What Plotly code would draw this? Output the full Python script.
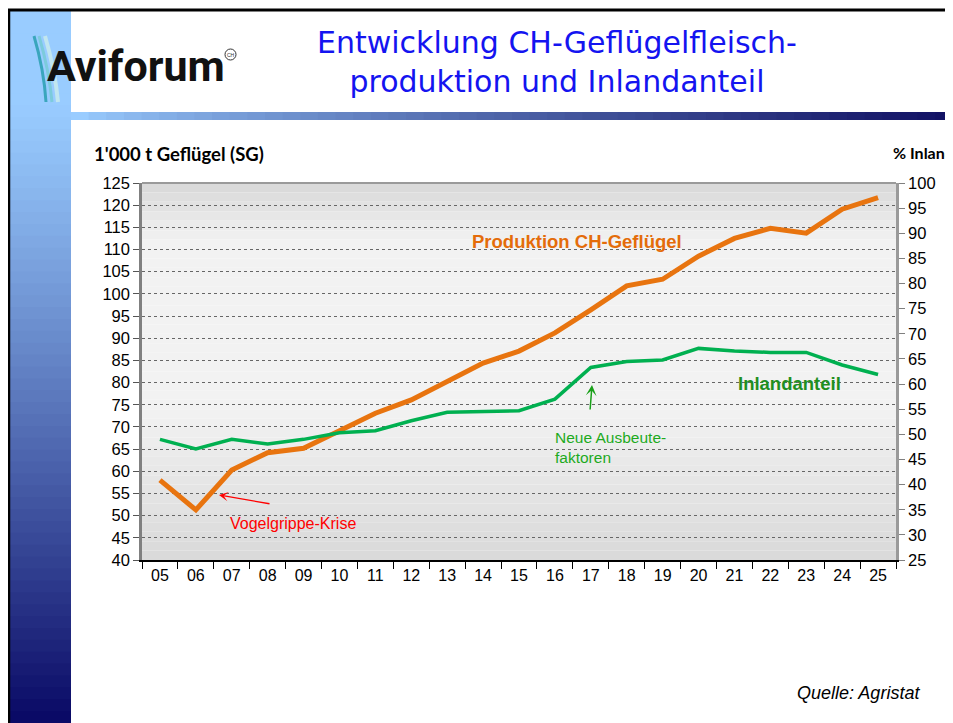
import plotly.graph_objects as go

# Daten
jahre = ['05', '06', '07', '08', '09', '10', '11', '12', '13', '14', '15',
         '16', '17', '18', '19', '20', '21', '22', '23', '24', '25']
produktion = [58.0, 51.3, 60.3, 64.2, 65.2, 69.0, 73.1, 76.1, 80.3, 84.4, 87.1,
              91.2, 96.4, 101.8, 103.3, 108.5, 112.5, 114.8, 113.7, 119.1, 121.7]
inlandanteil = [49.0, 47.1, 49.0, 48.1, 49.0, 50.3, 50.7, 52.7, 54.4, 54.5, 54.7,
                57.0, 63.3, 64.5, 64.8, 67.1, 66.6, 66.3, 66.3, 63.8, 61.9]

# die Seite hat 8px Rand, Koordinaten unten sind Seitenpixel
OFF = 8
PW, PH = 953, 723
W, H = PW - OFF, PH - OFF
L, R, T, B = 142, 896, 183, 560   # Plotbereich in Seitenpixeln


def px(x):
    return (x - L) / (R - L)


def py(y):
    return (B - y) / (B - T)


def mix(c1, c2, t):
    return 'rgb(%d,%d,%d)' % tuple(round(a + (b - a) * t) for a, b in zip(c1, c2))


fig = go.Figure()

fig.add_trace(go.Scatter(x=jahre, y=produktion, mode='lines', name='Produktion',
                         line=dict(color='#E8740F', width=5), yaxis='y'))
fig.add_trace(go.Scatter(x=jahre, y=inlandanteil, mode='lines', name='Inlandanteil',
                         line=dict(color='#00B050', width=3.5), yaxis='y2'))

shapes = []

# Hintergrund Plotbereich (Verlauf)
n = 40
for i in range(n):
    t = (i + 0.5) / n
    if t < 0.15:
        c = mix((216, 216, 216), (241, 241, 241), t / 0.15)
    elif t < 0.6:
        c = 'rgb(242,242,242)'
    else:
        c = mix((242, 242, 242), (217, 217, 217), (t - 0.6) / 0.4)
    shapes.append(dict(type='rect', xref='x domain', yref='y domain',
                       x0=0, x1=1, y0=1 - i / n, y1=1 - (i + 1) / n,
                       fillcolor=c, line=dict(width=0), layer='below'))
shapes.append(dict(type='line', xref='x domain', yref='y domain', x0=0, x1=1, y0=1, y1=1,
                   line=dict(color='#9a9a9a', width=2)))

# Seitenleiste links
m = 60
top, bot = 10, PH
for i in range(m):
    t = i / (m - 1)
    if t < 0.12:
        c = 'rgb(153,204,255)'
    else:
        tt = (t - 0.12) / 0.88
        c = mix((153, 204, 255), (10, 10, 102), tt ** 1.15)
    y0 = top + (bot - top) * i / m
    y1 = top + (bot - top) * (i + 1) / m + 1
    shapes.append(dict(type='rect', xref='paper', yref='paper',
                       x0=px(OFF), x1=px(71), y0=py(y0), y1=py(y1),
                       fillcolor=c, line=dict(width=0), layer='below'))
# horizontaler Balken oben
k = 50
for i in range(k):
    t = i / (k - 1)
    c = mix((153, 204, 255), (18, 18, 100), t ** 0.8)
    x0 = 71 + (PW - 71) * i / k
    x1 = 71 + (PW - 71) * (i + 1) / k + 1
    shapes.append(dict(type='rect', xref='paper', yref='paper',
                       x0=px(x0), x1=px(x1), y0=py(112), y1=py(120),
                       fillcolor=c, line=dict(width=0), layer='below'))
shapes.append(dict(type='rect', xref='paper', yref='paper',
                   x0=px(71), x1=px(PW), y0=py(11), y1=py(112),
                   fillcolor='white', line=dict(width=0), layer='below'))
# schwarzer Rahmen
shapes.append(dict(type='line', xref='paper', yref='paper', x0=px(OFF), x1=px(PW),
                   y0=py(10), y1=py(10), line=dict(color='black', width=3)))
shapes.append(dict(type='line', xref='paper', yref='paper', x0=px(OFF + 1), x1=px(OFF + 1),
                   y0=py(9), y1=py(PH), line=dict(color='black', width=2.5)))

# Feder im Logo
for (x0, x1, col, w) in [(34, 56, '#3aa6bd', 3), (39, 62, '#7ccbdc', 3),
                         (45, 68, '#c2e6ef', 4)]:
    shapes.append(dict(type='path', xref='paper', yref='paper',
                       path='M %f,%f Q %f,%f %f,%f' % (
                           px(x0), py(36), px(x0 + 10), py(70), px(x1 - 10), py(102)),
                       line=dict(color=col, width=w)))
# CH-Kreis
shapes.append(dict(type='circle', xref='paper', yref='paper',
                   x0=px(225), x1=px(236), y0=py(49), y1=py(60),
                   line=dict(color='#333333', width=1)))

annotations = [
    dict(text='Aviforum', x=px(45), y=py(66), xref='paper', yref='paper',
         xanchor='left', yanchor='middle', showarrow=False,
         font=dict(family='Roboto', size=43, color='#111111', weight='bold')),
    dict(text='CH', x=px(230.5), y=py(54.5), xref='paper', yref='paper',
         xanchor='center', yanchor='middle', showarrow=False,
         font=dict(family='Liberation Sans', size=5, color='#333333')),
    dict(text='Entwicklung CH-Geflügelfleisch-<br>produktion und Inlandanteil',
         x=px(557), y=py(62), xref='paper', yref='paper',
         xanchor='center', yanchor='middle', showarrow=False,
         font=dict(family='DejaVu Sans', size=30, color='#1414F0')),
    dict(text="<b>1'000 t Geflügel (SG)</b>", x=px(92), y=py(154), xref='paper', yref='paper',
         xanchor='left', yanchor='middle', showarrow=False,
         font=dict(family='Lato', size=18.5, color='black')),
    dict(text='<b>% Inlandanteil</b>', x=px(891), y=py(153), xref='paper', yref='paper',
         xanchor='left', yanchor='middle', showarrow=False,
         font=dict(family='Lato', size=16, color='black')),
    dict(text='<b>Produktion CH-Geflügel</b>', x=px(470), y=py(241), xref='paper', yref='paper',
         xanchor='left', yanchor='middle', showarrow=False,
         font=dict(family='Liberation Sans', size=18.5, color='#E46C0A')),
    dict(text='<b>Inlandanteil</b>', x=px(736), y=py(383), xref='paper', yref='paper',
         xanchor='left', yanchor='middle', showarrow=False,
         font=dict(family='Liberation Sans', size=18.5, color='#1F8F1F')),
    dict(text='Vogelgrippe-Krise', x=px(228), y=py(523), xref='paper', yref='paper',
         xanchor='left', yanchor='middle', showarrow=False,
         font=dict(family='Liberation Sans', size=16, color='#FF0000')),
    dict(text='Neue Ausbeute-<br>faktoren', x=px(553), y=py(447), xref='paper', yref='paper',
         xanchor='left', yanchor='middle', showarrow=False, align='left',
         font=dict(family='Liberation Sans', size=15.5, color='#1DAA1D')),
    dict(text='Quelle: Agristat', x=px(922), y=py(693), xref='paper', yref='paper',
         xanchor='right', yanchor='middle', showarrow=False,
         font=dict(family='Liberation Sans', size=18, color='black', style='italic')),
    # Pfeile
    dict(text='', x=px(219), y=py(495), xref='paper', yref='paper',
         ax=52, ay=9, showarrow=True, arrowhead=3, arrowsize=1.2,
         arrowwidth=1.3, arrowcolor='#FF0000'),
    dict(text='', x=px(592), y=py(385), xref='paper', yref='paper',
         ax=-2, ay=26, showarrow=True, arrowhead=3, arrowsize=1.2,
         arrowwidth=1.5, arrowcolor='#19A019'),
]

fig.update_layout(
    width=W, height=H,
    margin=dict(l=L - OFF, r=PW - R, t=T - OFF, b=PH - B),
    paper_bgcolor='white', plot_bgcolor='rgba(0,0,0,0)',
    showlegend=False,
    font=dict(family='Liberation Sans', color='black'),
    xaxis=dict(type='category', tickson='boundaries', ticks='outside', ticklen=7,
               tickcolor='black', tickwidth=1.3, showgrid=False, showline=True,
               linecolor='black', linewidth=2, tickfont=dict(size=16),
               range=[-0.5, 20.5], fixedrange=True),
    yaxis=dict(range=[40, 125], dtick=5, ticks='outside', ticklen=6, tickcolor='#555555',
               showgrid=True, gridcolor='#666666', griddash='dot', gridwidth=1,
               showline=True, linecolor='#808080', linewidth=2.5,
               tickfont=dict(size=16.5), zeroline=False),
    yaxis2=dict(range=[25, 100], dtick=5, overlaying='y', side='right', ticks='outside',
                ticklen=6, tickcolor='#808080', showgrid=False, showline=True,
                linecolor='#9a9a9a', linewidth=2.5, tickfont=dict(size=16.5), zeroline=False),
    shapes=shapes,
    annotations=annotations,
)

fig.write_html("out.html")
